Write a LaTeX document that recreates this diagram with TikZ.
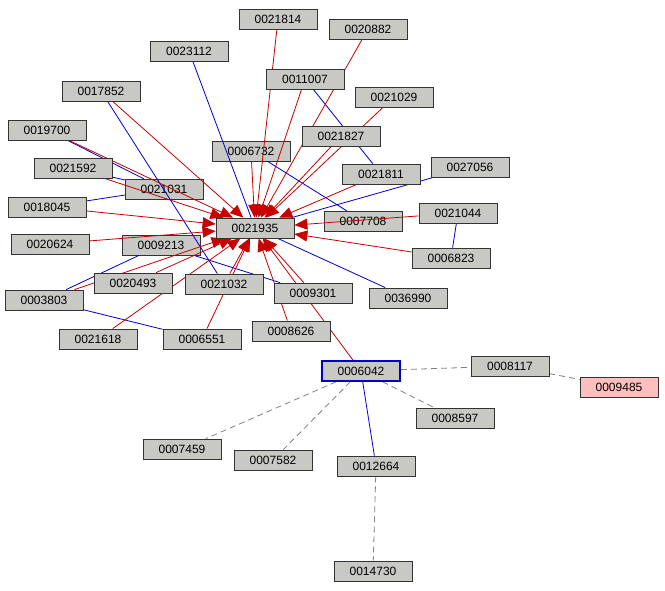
\documentclass[tikz,border=0pt]{standalone}
\usepackage{fontspec}
\setmainfont{Liberation Sans}
\usetikzlibrary{arrows.meta,shadows,backgrounds}
\definecolor{boxgray}{RGB}{200,201,196}
\definecolor{linkred}{RGB}{200,0,0}
\definecolor{linkblue}{RGB}{0,0,205}
\begin{document}
\begin{tikzpicture}[x=1pt,y=-1pt, thick,
 main node/.style={rectangle,draw=black!80,fill=boxgray,minimum width=78pt,minimum height=20pt,inner sep=0pt,font=\fontsize{12}{14}\selectfont,drop shadow={opacity=.25,shadow xshift=1pt,shadow yshift=-1pt}},
 seed node/.style={main node,draw=linkblue,line width=1.6pt},
 hit node/.style={main node,fill=red!25},
 cite/.style={color=linkred,line width=0.8pt,-{Triangle[length=13pt,width=11pt]}},
 link/.style={color=linkblue,line width=0.8pt},
 weak/.style={color=gray,line width=0.8pt,dash pattern=on 6pt off 4pt}]
\useasboundingbox (0,0) rectangle (665,590);
% nodes
\node[main node] (a) at (278,19) {0021814};
\node[main node] (b) at (368,29) {0020882};
\node[main node] (c) at (189,51) {0023112};
\node[main node] (d) at (305,79) {0011007};
\node[main node] (e) at (394,97) {0021029};
\node[main node] (f) at (101,91) {0017852};
\node[main node] (g) at (47,130) {0019700};
\node[main node] (i) at (73,168) {0021592};
\node[main node] (m) at (470,167) {0027056};
\node[main node] (o) at (47,207) {0018045};
\node[main node] (q) at (50,244) {0020624};
\node[main node] (s) at (451,258) {0006823};
\node[main node] (u) at (44,300) {0003803};
\node[main node] (t) at (133,283) {0020493};
\node[main node] (h) at (341,136) {0021827};
\node[main node] (k) at (381,174) {0021811};
\node[main node] (p) at (458,213) {0021044};
\node[main node] (v) at (224,284) {0021032};
\node[main node] (w) at (313,293) {0009301};
\node[main node] (x) at (408,298) {0036990};
\node[main node] (y) at (98,339) {0021618};
\node[main node] (z) at (202,339) {0006551};
\node[main node] (aa) at (291,331) {0008626};
\node[main node] (hub) at (255,228) {0021935};
\node[seed node] (seed) at (361,371) {0006042};
\node[main node] (bb) at (510,366) {0008117};
\node[hit node] (cc) at (619,387) {0009485};
\node[main node] (dd) at (455,418) {0008597};
\node[main node] (ee) at (182,449) {0007459};
\node[main node] (ff) at (273,460) {0007582};
\node[main node] (gg) at (376,466) {0012664};
\node[main node] (hh) at (373,571) {0014730};

\begin{scope}[on background layer]
% these ones lie under the links
\node[main node] (j) at (251,151) {0006732};
\node[main node] (n) at (164,189) {0021031};
\node[main node] (r) at (161,245) {0009213};
\node[main node] (l) at (363,221) {0007708};

\path[link]
(c) edge (hub) (f) edge (v) (g) edge (n) (i) edge (n) (o) edge (n)
(d) edge (k) (j) edge (l) (m) edge (hub) (p) edge (s) (hub) edge (x)
(u) edge (r) (u) edge (z) (r) edge (w) (seed) edge (gg);

\path[weak]
(seed) edge (bb) (bb) edge (cc) (seed) edge (dd) (seed) edge (ee)
(seed) edge (ff) (gg) edge (hh);

\path[cite]
(a) edge (hub) (b) edge (hub) (d) edge (hub) (e) edge (hub)
(h) edge (hub) (k) edge (hub) (j) edge (hub) (f) edge (hub)
(g) edge (hub) (i) edge (hub) (o) edge (hub) (q) edge (hub)
(t) edge (hub) (u) edge (hub) (y) edge (hub) (v) edge (hub)
(z) edge (hub) (w) edge (hub) (aa) edge (hub) (seed) edge (hub)
(p) edge (hub) (s) edge (hub);
\end{scope}

\end{tikzpicture}
\end{document}
